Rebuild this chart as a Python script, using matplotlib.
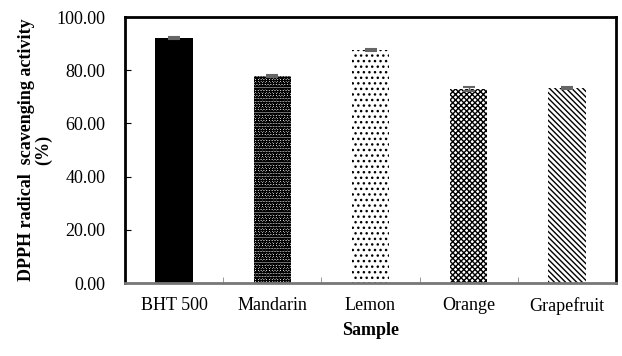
import matplotlib
matplotlib.use("Agg")
import matplotlib.pyplot as plt
import numpy as np

samples = ["BHT 500", "Mandarin", "Lemon", "Orange", "Grapefruit"]
activity = [92.0, 77.9, 87.6, 72.9, 73.4]
errors = [0.4, 0.3, 0.4, 0.8, 0.4]
hatches = ["", "oooooo", "...", "xxxxxx", "\\\\\\\\\\\\"]
faces = ["black", "white", "white", "white", "white"]

plt.rcParams["font.family"] = ["Liberation Serif", "DejaVu Serif"]
plt.rcParams["hatch.linewidth"] = 1.0

fig = plt.figure(figsize=(6.22, 3.56), dpi=100)
ax = fig.add_axes([125 / 622, 1 - 283 / 356, (616 - 125) / 622, (283 - 17) / 356])

x = np.arange(len(samples))
for i in range(len(samples)):
    ax.bar(x[i], activity[i], 0.38, color=faces[i], edgecolor="black",
           hatch=hatches[i], linewidth=0)
ax.errorbar(x, activity, yerr=errors, fmt="none", ecolor="#666666",
            elinewidth=1, capsize=4, capthick=1.5)

ax.set_xlim(-0.5, len(samples) - 0.5)
ax.set_ylim(0, 100)
ax.set_yticks(np.arange(0, 101, 20))
ax.set_yticklabels(["%.2f" % v for v in np.arange(0, 101, 20)], fontsize=13)
ax.set_xticks(x)
ax.set_xticklabels(samples, fontsize=13)
ax.tick_params(axis="x", length=0, pad=10)
ax.tick_params(axis="y", direction="in", length=4, pad=14)
ax.set_xticks(x[:-1] + 0.5, minor=True)
ax.tick_params(axis="x", which="minor", direction="in", length=4, color="#888888")

for s in ax.spines.values():
    s.set_linewidth(2)
ax.spines["bottom"].set_color("#777777")

ax.set_ylabel("DPPH radical  scavenging activity\n(%)", fontsize=13,
              fontweight="bold", labelpad=3, linespacing=1.0)
ax.set_xlabel("Sample", fontsize=13, fontweight="bold", labelpad=5)

fig.savefig("out.png", dpi=100)
